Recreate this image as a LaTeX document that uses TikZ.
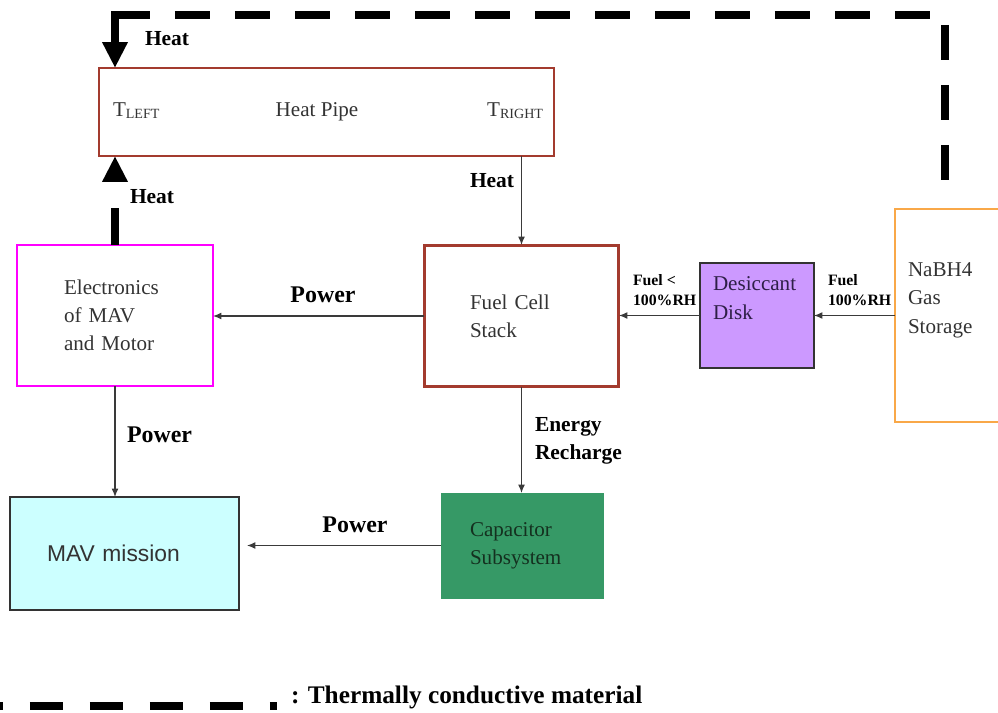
\documentclass[tikz,border=0pt]{standalone}
\usepackage{fontspec}
\setmainfont{Liberation Serif}
\newfontfamily\arialfont{Liberation Sans}
\usetikzlibrary{arrows.meta, positioning, calc}

% small capitals after the T of the pipe ends
\newcommand{\tsub}[1]{{\fontsize{8}{8}\selectfont\raisebox{-0.6pt}{#1}}}

\begin{document}
\begin{tikzpicture}[
    x=0.02cm, y=-0.02cm,
    every node/.style={inner sep=0pt, outer sep=0pt},
]

\definecolor{pipered}{HTML}{A33B2E}
\definecolor{elecmag}{HTML}{FF00FF}
\definecolor{deskfill}{HTML}{CC99FF}
\definecolor{deskink}{HTML}{2E1F47}
\definecolor{tankorange}{HTML}{F9A848}
\definecolor{missionfill}{HTML}{CCFFFF}
\definecolor{capfill}{HTML}{369966}
\definecolor{capink}{HTML}{14301F}
\definecolor{boxtext}{HTML}{333333}
\definecolor{wire}{HTML}{3A3A3A}

% ================================================================
%  Picture in pixel units (1px = 0.02cm), y running downwards.
%  Boxes: pipe 99..554 x 68..156, electronics 17..213 x 245..386,
%  fuel cell 424..619 x 245..387, desiccant 700..814 x 263..368,
%  NaBH4 895..(off page) x 209..422, mission 10..239 x 497..610,
%  capacitor 441..603 x 493..598.
%  Thermal path: thick dashed loop at y = 15, right leg at x = 945.
% ================================================================

\tikzset{
  blk/.style={rectangle, align=left, text=boxtext,
              font=\fontsize{12}{16}\selectfont},
  pipebox/.style={blk, draw=pipered, line width=1.1pt,
                  minimum width=9.1cm, minimum height=1.76cm},
  elecbox/.style={blk, draw=elecmag, line width=1.4pt, text width=2.04cm,
                  minimum width=3.92cm, minimum height=2.82cm},
  cellbox/.style={blk, draw=pipered, line width=1.7pt, text width=2.06cm,
                  minimum width=3.9cm, minimum height=2.84cm},
  deskbox/.style={blk, draw=boxtext, fill=deskfill, line width=0.9pt,
                  minimum width=2.28cm, minimum height=2.1cm},
  tankbox/.style={blk, draw=tankorange, line width=1.4pt,
                  minimum width=2.16cm, minimum height=4.26cm},
  missionbox/.style={blk, draw=boxtext, fill=missionfill, line width=0.8pt,
                     text width=3.1cm, minimum width=4.58cm, minimum height=2.26cm,
                     font=\arialfont\fontsize{13}{16}\selectfont},
  capbox/.style={blk, draw=capfill, fill=capfill, text=capink, text width=2.08cm,
                 minimum width=3.24cm, minimum height=2.1cm},
  flow/.style={-{Latex[length=0.17cm, width=0.14cm]}, draw=wire, line width=0.7pt},
  heatline/.style={draw=black, line width=0.17cm},
  heatarrow/.style={heatline, -{Triangle[length=0.52cm, width=0.48cm]}},
  lbl/.style={font=\bfseries\fontsize{12.2}{16}\selectfont},
  pwr/.style={font=\bfseries\fontsize{13.6}{16}\selectfont},
  fuel/.style={font=\bfseries\fontsize{9}{11.4}\selectfont, align=left},
  keylbl/.style={font=\bfseries\fontsize{14.4}{16}\selectfont},
}

% ---------------------------------------------------------------- boxes
\useasboundingbox (0,0) rectangle (998,713);

\node[pipebox] (pipe) at (326.5,112) {};
\node[blk, anchor=base west] (tleft) at (113,117) {T\tsub{LEFT}};
\node[blk, anchor=base] (pipename) at (317,117) {Heat Pipe};
\node[blk, anchor=base east] (tright) at (543,117) {T\tsub{RIGHT}};

\node[elecbox] (elec) at (115,315.5) {Electronics\\of MAV\\and Motor};
\node[cellbox] (fcs) at (521.5,316) {Fuel Cell\\Stack};

\node[deskbox] (desk) at (757,315.5) {};
\node[blk, text=deskink, anchor=north west] (desktxt) at (713,277) {Desiccant\\Disk};

\node[tankbox] (tank) at (949,315.5) {};
\node[blk, anchor=north west] (tanktxt) at (908,263) {NaBH4\\Gas\\Storage};

\node[missionbox] (mission) at (124.5,553.5) {MAV mission};
\node[capbox] (cap) at (522,545.5) {Capacitor\\Subsystem};

% ---------------------------------------------------------------- power and fuel
\draw[flow] (fcs.west) -- (fcs.west -| elec.east);
\draw[flow] (elec.south) -- (elec.south |- mission.north);
\draw[flow] (fcs.south) -- (fcs.south |- cap.north);
\draw[flow, shorten >=0.16cm] (cap.west) -- (cap.west -| mission.east);
\draw[flow] (desk.west) -- (desk.west -| fcs.east);
\draw[flow] (tank.west) -- (tank.west -| desk.east);
\draw[flow] (fcs.north |- pipe.south) -- (fcs.north);

\node[pwr] (pwrA) at (323,295) {Power};
\node[pwr, anchor=west] (pwrB) at (127,435) {Power};
\node[pwr] (pwrC) at (355,525) {Power};
\node[lbl, anchor=west, align=left] (charge) at (535,441) {Energy\\Recharge};
\node[fuel, anchor=west] (dry) at (633,290) {Fuel <\\100\%RH};
\node[fuel, anchor=west] (wet) at (828,290) {Fuel\\100\%RH};

% ---------------------------------------------------------------- thermal path
\coordinate (hotL) at (elec.north |- 0,15);
\coordinate (hotR) at (945,15);
\draw[heatline, dash pattern=on 0.7cm off 0.5cm]
    (hotL) -- (hotR) -- ($(hotR |- tank.north)+(0,-26)$);
\draw[heatarrow, line cap=rect] (hotL) -- (hotL |- pipe.north);
\draw[heatarrow, dash pattern=on 0.74cm off 0.6cm] (elec.north) -- (elec.north |- pipe.south);

\node[lbl, anchor=west] (heatA) at (145,39) {Heat};
\node[lbl, anchor=west] (heatB) at (130,197) {Heat};
\node[lbl, anchor=west] (heatC) at (470,181) {Heat};

% ---------------------------------------------------------------- key
\coordinate (keyA) at (0,706);
\coordinate (keyB) at (277,706);
\draw[heatline, dash pattern=on 0.66cm off 0.54cm, dash phase=0.6cm] (keyA) -- (keyB);
\node[keylbl, anchor=base west] (keytxt) at (291,703) {: Thermally conductive material};

\end{tikzpicture}
\end{document}
